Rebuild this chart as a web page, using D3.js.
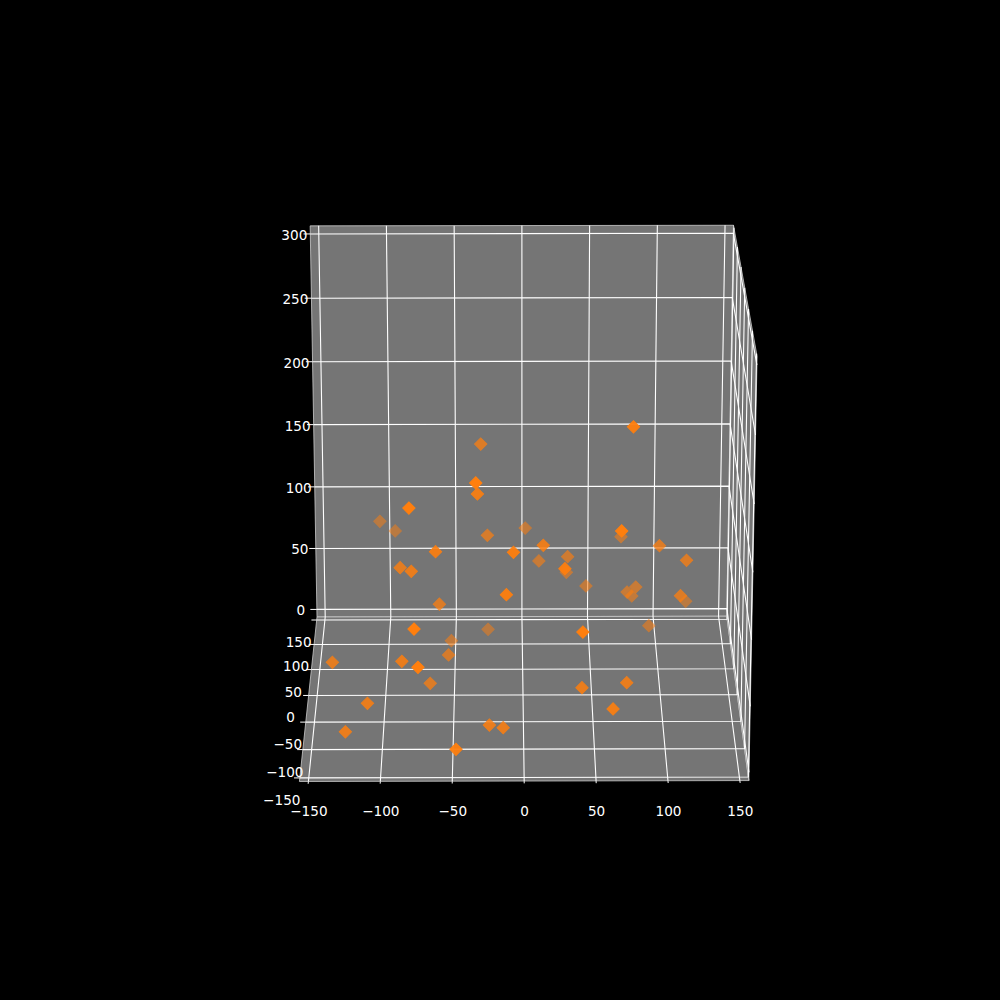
<!DOCTYPE html>
<html>
<head>
<meta charset="utf-8">
<script src="https://cdn.jsdelivr.net/npm/d3@7"></script>
<style>
  html, body { margin: 0; background: #000; }
  text { font-family: "DejaVu Sans", sans-serif; fill: #fff; font-size: 13.6px; }
</style>
</head>
<body>
<div id="chart"></div>
<script>
"use strict";

// === DATA (y comes from the depth shading) ===
const xValues = [-12.1, -60.3, -76.4, -25.6, -52.7, -54.0, -136.6, -86.4, -73.7, -67.0, -110.9, -126.6, -24.3, -14.5, -47.6, 41.0,
  93.5, 73.3, 41.5, 63.0, 68.1, 73.0, 14.2, 98.3, 117.8, 32.8, 12.0, 28.9, 32.5, 47.0, 83.2, 76.8,
  80.9, 113.4, 121.7, -30.3, -33.3, -32.4, -79.8, -106.1, -94.7, -25.7, 2.1, -62.0, -7.1, -88.0, -79.6, 77.1];
const yValues = [-91.5, -12.1, -119.8, 83.1, 60.0, -4.4, -46.4, -66.7, -129.0, -31.7, -76.8, -83.7, -82.6, -83.3, -128.6, -121.1,
  63.1, -72.7, -73.8, -99.3, -97.1, 85.9, -38.8, 1.6, -2.1, 40.1, 59.6, -85.5, 77.0, 73.5, 52.6, 51.4,
  70.7, -10.9, 89.5, 27.5, -85.0, -46.6, -90.8, 111.3, 108.7, 25.3, 88.5, -60.4, -81.3, -23.3, -44.7, -51.5];
const zValues = [108.5, 70.2, 93.9, 12.5, 12.7, 27.4, 38.9, 47.9, 68.7, 16.3, 19.6, 0.5, 5.0, 3.2, 6.1, 91.9,
  23.2, 33.5, 30.1, 24.3, 158.4, 85.5, 125.8, 110.1, 100.1, 87.1, 76.3, 125.8, 60.6, 51.0, 58.2, 54.7,
  44.0, 76.0, 32.3, 179.4, 190.0, 167.8, 173.5, 88.7, 81.9, 109.5, 91.6, 129.3, 136.6, 102.9, 108.3, 219.8];

const xTicks = [-150, -100, -50, 0, 50, 100, 150];
const yTicks = [-150, -100, -50, 0, 50, 100, 150];
const zTicks = [0, 50, 100, 150, 200, 250, 300];
const xLim = [-156.25, 156.25], yLim = [-156.25, 156.25], zLim = [-6.25, 306.25];

// === CAMERA ===
const width = 1000, height = 1000;
const elev = 20 * Math.PI / 180, azim = -90.3 * Math.PI / 180;
const dist = 20, fx = 4360, fy = 4330, cx = 523, cy = 495;

const xScale = d3.scaleLinear().domain(xLim).range([-1, 1]);
const yScale = d3.scaleLinear().domain(yLim).range([-1, 1]);
const zScale = d3.scaleLinear().domain(zLim).range([-1, 1]);
const alphaScale = d3.scaleLinear().domain([-0.8, 0.6]).range([0.5, 1]).clamp(true);

const se = Math.sin(elev), ce = Math.cos(elev), sa = Math.sin(azim), ca = Math.cos(azim);
const right = [-sa, ca, 0], up = [-se * ca, -se * sa, ce], eye = [ce * ca, ce * sa, se];
const dot = (a, b) => a[0] * b[0] + a[1] * b[1] + a[2] * b[2];

function project(x, y, z) {
  const p = [xScale(x), yScale(y), zScale(z)];
  const w = dist - dot(eye, p);
  return { sx: cx + fx * dot(right, p) / w, sy: cy - fy * dot(up, p) / w, depth: dot(eye, p) };
}
const line3 = pts => d3.line()(pts.map(d => {
  const s = project(d[0], d[1], d[2]);
  return [s.sx, s.sy];
}));

const svg = d3.select("#chart").append("svg").attr("width", width).attr("height", height);
svg.append("rect").attr("width", width).attr("height", height).attr("fill", "#000");

const [x0, x1] = xLim, [y0, y1] = yLim, [z0, z1] = zLim;

// === PANES ===
const panes = [
  [[x0, y1, z0], [x1, y1, z0], [x1, y1, z1], [x0, y1, z1]],
  [[x0, y0, z0], [x1, y0, z0], [x1, y1, z0], [x0, y1, z0]],
  [[x1, y0, z0], [x1, y1, z0], [x1, y1, z1], [x1, y0, z1]]
];
svg.selectAll(".pane").data(panes).enter().append("path").attr("class", "pane")
  .attr("d", d => line3(d) + "Z")
  .attr("fill", "#757575")
  .attr("stroke", "#ccc")
  .attr("stroke-width", 0.8);

// === GRID ===
const gridLines = [];
xTicks.forEach(t => gridLines.push([[t, y0, z0], [t, y1, z0], [t, y1, z1]]));
yTicks.forEach(t => gridLines.push([[x0, t, z0], [x1, t, z0], [x1, t, z1]]));
zTicks.forEach(t => gridLines.push([[x0, y1, t], [x1, y1, t], [x1, y0, t]]));
svg.selectAll(".grid").data(gridLines).enter().append("path").attr("class", "grid")
  .attr("d", line3)
  .attr("fill", "none")
  .attr("stroke", "#fff")
  .attr("stroke-width", 1.1);

// === TICKS AND LABELS ===
const tickLines = [];
xTicks.forEach(t => tickLines.push([[t, y0, z0], [t, y0 - 4, z0]]));
yTicks.forEach(t => tickLines.push([[x0, t, z0], [x0 - 4, t, z0]]));
zTicks.forEach(t => tickLines.push([[x0, y1, t], [x0 - 5, y1, t]]));
svg.selectAll(".tick").data(tickLines).enter().append("path").attr("class", "tick")
  .attr("d", line3)
  .attr("fill", "none")
  .attr("stroke", "#fff")
  .attr("stroke-width", 1);

const fmt = d => String(d).replace("-", "\u2212");
function tickLabels(ticks, pos, dx, dy) {
  ticks.forEach(t => {
    const s = pos(t);
    svg.append("text")
      .attr("x", s.sx + dx)
      .attr("y", s.sy + dy)
      .attr("text-anchor", "middle")
      .attr("dominant-baseline", "central")
      .text(fmt(t));
  });
}
tickLabels(xTicks, t => project(t, y0, z0), 0.5, 30);
tickLabels(yTicks, t => project(x0, t, z0), -18, 22);
tickLabels(zTicks, t => project(x0, y1, t), -16, 1);

// === POINTS (far ones first) ===
const points = xValues.map((x, i) => project(x, yValues[i], zValues[i]))
  .sort((a, b) => a.depth - b.depth);

svg.selectAll(".point").data(points).enter().append("path").attr("class", "point")
  .attr("d", d3.symbol().type(d3.symbolSquare).size(76)())
  .attr("transform", d => `translate(${d.sx},${d.sy}) rotate(45)`)
  .attr("fill", "#ff7f0e")
  .attr("stroke", "#ff7f0e")
  .attr("stroke-width", 1)
  .attr("opacity", d => alphaScale(d.depth));
</script>
</body>
</html>
